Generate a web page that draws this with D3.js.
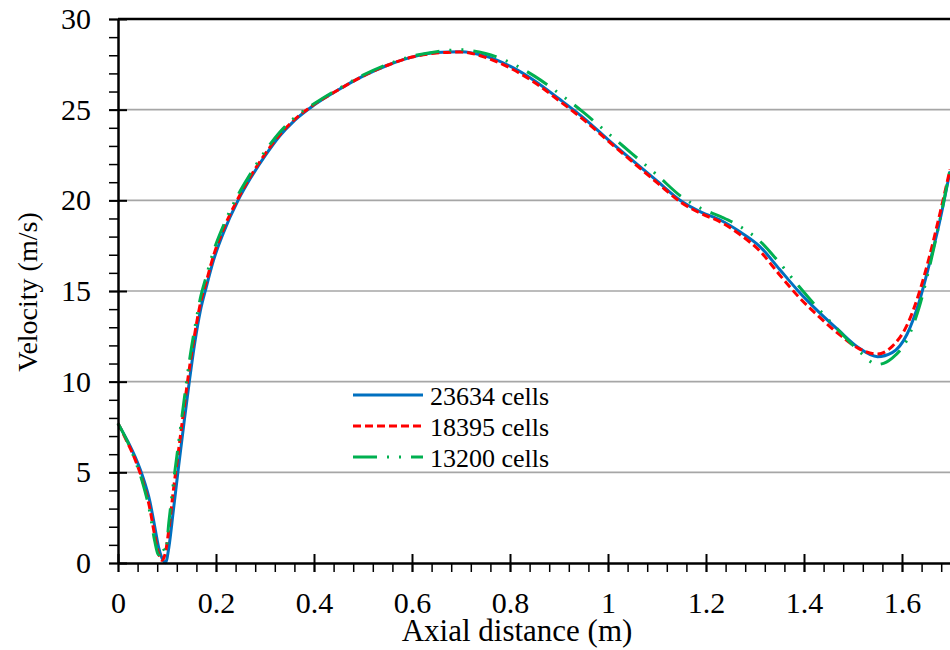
<!DOCTYPE html>
<html>
<head>
<meta charset="utf-8">
<script src="https://cdn.jsdelivr.net/npm/d3@7"></script>
</head>
<body style="margin:0">
<svg id="fig" width="950" height="650" font-family="Liberation Serif"></svg>
<script>
// axial positions (m), shared by all three meshes
const axialX = [0, 0.02, 0.035, 0.05, 0.065, 0.075, 0.083, 0.09, 0.097, 0.104, 0.113, 0.124, 0.135,
  0.146, 0.157, 0.168, 0.18, 0.195, 0.215, 0.245, 0.27, 0.3, 0.33, 0.36, 0.4, 0.45, 0.5, 0.55, 0.6,
  0.65, 0.7, 0.75, 0.8, 0.85, 0.9, 0.95, 1.0, 1.05, 1.1, 1.15, 1.19, 1.23, 1.27, 1.31, 1.35, 1.39,
  1.43, 1.47, 1.51, 1.55, 1.58, 1.61, 1.635, 1.655, 1.675, 1.698];

// velocity (m/s) for each mesh
const cells23634 = [7.7, 6.7, 5.85, 4.8, 3.4, 2.0, 0.85, 0.25, 0.02, 0.9, 2.9, 5.4, 7.8,
  10.1, 12.2, 13.9, 15.2, 16.7, 18.2, 20.0, 21.2, 22.45, 23.55, 24.4, 25.25, 26.1, 26.85, 27.45, 27.9,
  28.15, 28.2, 27.95, 27.4, 26.6, 25.6, 24.55, 23.35, 22.2, 21.07, 19.95, 19.35, 18.9, 18.25, 17.45, 16.2, 14.95,
  13.85, 12.85, 11.9, 11.38, 11.6, 12.6, 14.4, 16.4, 18.6, 21.6];
const cells18395 = [7.7, 6.6, 5.7, 4.55, 3.0, 1.5, 0.5, 0.15, 0.6, 1.9, 4.0, 6.3, 8.6,
  10.8, 12.7, 14.3, 15.5, 16.95, 18.4, 20.1, 21.3, 22.55, 23.62, 24.45, 25.28, 26.1, 26.85, 27.45, 27.9,
  28.12, 28.18, 27.88, 27.3, 26.5, 25.5, 24.45, 23.28, 22.12, 20.98, 19.87, 19.27, 18.8, 18.1, 17.2, 15.9, 14.65,
  13.6, 12.65, 11.85, 11.52, 11.95, 13.1, 14.9, 16.8, 19.0, 21.7];
const cells13200 = [7.7, 6.65, 5.65, 4.45, 2.8, 1.2, 0.45, 0.9, 0.6, 2.3, 4.4, 6.7, 9.0,
  11.2, 13.0, 14.6, 15.8, 17.2, 18.6, 20.3, 21.45, 22.7, 23.75, 24.55, 25.32, 26.15, 26.9, 27.5, 27.95,
  28.2, 28.3, 28.1, 27.6, 26.85, 25.9, 24.85, 23.7, 22.55, 21.4, 20.2, 19.55, 19.1, 18.55, 17.75, 16.55, 15.25,
  14.0, 12.85, 11.75, 10.95, 11.3, 12.3, 14.1, 16.2, 18.6, 21.7];

const seriesNames = ["23634 cells", "18395 cells", "13200 cells"];
const seriesValues = [cells23634, cells18395, cells13200];
const seriesColors = ["#0070C0", "#FF0000", "#00B050"];
const seriesDashes = [null, "8,4", "24,10,2,10,2,10"];

const xMajorTicks = [0, 0.2, 0.4, 0.6, 0.8, 1, 1.2, 1.4, 1.6];
const yMajorTicks = [0, 5, 10, 15, 20, 25, 30];

const serif = "Liberation Serif";
const svg = d3.select("#fig");
const plotLeft = 118, plotTop = 19, plotBottom = 563;
const x = d3.scaleLinear().domain([0, 1.7]).range([plotLeft, plotLeft + 1.7 * 490]);
const y = d3.scaleLinear().domain([0, 30]).range([plotBottom, plotTop]);

// gridlines
svg.append("g").selectAll("line").data(yMajorTicks.filter(v => v > 0 && v < 30)).join("line")
  .attr("x1", plotLeft).attr("x2", 950)
  .attr("y1", d => y(d)).attr("y2", d => y(d))
  .attr("stroke", "#a6a6a6").attr("stroke-width", 1.6);

// series
const line = d3.line().x(d => x(d[0])).y(d => y(d[1])).curve(d3.curveMonotoneX);
seriesValues.forEach((vals, i) => {
  svg.append("path")
    .datum(axialX.map((xv, j) => [xv, vals[j]]))
    .attr("fill", "none")
    .attr("stroke", seriesColors[i])
    .attr("stroke-width", 3)
    .attr("stroke-dasharray", seriesDashes[i])
    .attr("d", line);
});

// top frame line
svg.append("line").attr("x1", plotLeft).attr("x2", 950).attr("y1", y(30)).attr("y2", y(30))
  .attr("stroke", "#000").attr("stroke-width", 2.5);

// y axis minor ticks
svg.append("g").attr("transform", `translate(${plotLeft},0)`)
  .call(d3.axisLeft(y).tickValues(d3.range(0, 31, 1)).tickSize(9).tickFormat(""))
  .call(g => g.select(".domain").remove())
  .selectAll("line").attr("stroke-width", 1.5);

// y axis major ticks + labels
const yAxis = svg.append("g").attr("transform", `translate(${plotLeft},0)`)
  .call(d3.axisLeft(y).tickValues(yMajorTicks).tickSize(9).tickSizeOuter(0).tickPadding(18));
yAxis.attr("font-family", serif).attr("font-size", 30);
yAxis.select(".domain").attr("stroke-width", 2.5);
yAxis.selectAll(".tick line").attr("x1", 9).attr("stroke-width", 2);

// x axis minor ticks
svg.append("g").attr("transform", `translate(0,${plotBottom})`)
  .call(d3.axisBottom(x).tickValues(d3.range(0, 1.72, 0.04)).tickSize(9).tickFormat(""))
  .call(g => g.select(".domain").remove())
  .selectAll("line").attr("stroke-width", 1.5);

// x axis major ticks + labels
const xAxis = svg.append("g").attr("transform", `translate(0,${plotBottom})`)
  .call(d3.axisBottom(x).tickValues(xMajorTicks).tickSize(9).tickSizeOuter(0).tickPadding(20)
    .tickFormat(d3.format("~g")));
xAxis.attr("font-family", serif).attr("font-size", 30);
xAxis.select(".domain").attr("stroke-width", 2.5);
xAxis.selectAll(".tick line").attr("y1", -9).attr("stroke-width", 2);

// axis titles
svg.append("text").attr("x", 517).attr("y", 641).attr("text-anchor", "middle")
  .attr("font-family", serif).attr("font-size", 31).text("Axial distance (m)");
svg.append("text").attr("transform", "translate(37,292) rotate(-90)").attr("text-anchor", "middle")
  .attr("font-family", serif).attr("font-size", 28).text("Velocity (m/s)");

// legend
const legend = svg.append("g");
seriesNames.forEach((name, i) => {
  const ly = 395 + i * 31;
  legend.append("line").attr("x1", 353).attr("x2", 423).attr("y1", ly).attr("y2", ly)
    .attr("stroke", seriesColors[i]).attr("stroke-width", 3)
    .attr("stroke-dasharray", seriesDashes[i]);
  legend.append("text").attr("x", 430).attr("y", ly + 10)
    .attr("font-family", serif).attr("font-size", 26).text(name);
});
</script>
</body>
</html>
